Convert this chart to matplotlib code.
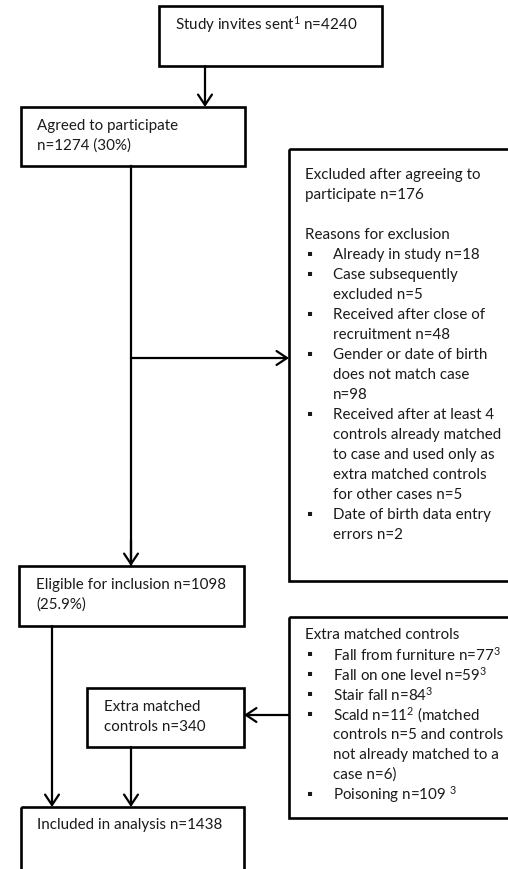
import matplotlib
matplotlib.use("Agg")
import matplotlib.pyplot as plt
from matplotlib.patches import Rectangle

plt.rcParams['font.family'] = ['Lato', 'DejaVu Sans']
plt.rcParams['mathtext.fontset'] = 'custom'
plt.rcParams['mathtext.rm'] = 'Lato'
plt.rcParams['mathtext.it'] = 'Lato'

# box texts
invites = ["Study invites sent$^{1}$ n=4240"]
agreed = ["Agreed to participate", "n=1274 (30%)"]
excl_head = ["Excluded after agreeing to", "participate n=176", "", "Reasons for exclusion"]
excl_items = [
    ["Already in study n=18"],
    ["Case subsequently", "excluded n=5"],
    ["Received after close of", "recruitment n=48"],
    ["Gender or date of birth", "does not match case", "n=98"],
    ["Received after at least 4", "controls already matched", "to case and used only as",
     "extra matched controls", "for other cases n=5"],
    ["Date of birth data entry", "errors n=2"],
]
eligible = ["Eligible for inclusion n=1098", "(25.9%)"]
extra_head = ["Extra matched controls"]
extra_items = [
    ["Fall from furniture n=77$^{3}$"],
    ["Fall on one level n=59$^{3}$"],
    ["Stair fall n=84$^{3}$"],
    ["Scald n=11$^{2}$ (matched", "controls n=5 and controls", "not already matched to a", "case n=6)"],
    ["Poisoning n=109 $^{3}$"],
]
extra_box = ["Extra matched", "controls n=340"]
included = ["Included in analysis n=1438"]

W, H = 508, 869
fig = plt.figure(figsize=(W / 100, H / 100), dpi=100)
ax = fig.add_axes([0, 0, 1, 1])
ax.set_xlim(0, W)
ax.set_ylim(H, 0)
ax.axis('off')

fs = 10.9
LH = 20


def box(x0, y0, x1, y1):
    ax.add_patch(Rectangle((x0, y0), x1 - x0, y1 - y0, fill=False, lw=1.9, ec='black'))


def lines(x, y, rows):
    for i, r in enumerate(rows):
        ax.text(x, y + i * LH, r, fontsize=fs, va='center', ha='left', color='#1a1a1a')
    return y + len(rows) * LH


def bullets(x, y, items):
    for it in items:
        ax.text(x, y, "\u25aa", fontsize=fs, va='center', ha='left', color='#1a1a1a')
        y = lines(x + 26, y, it)
    return y


def arrow(x0, y0, x1, y1):
    ax.annotate("", xy=(x1, y1), xytext=(x0, y0),
                arrowprops=dict(arrowstyle="->,head_length=0.75,head_width=0.5",
                                lw=1.6, color='black', shrinkA=0, shrinkB=0))


box(159, 6, 382, 66)
lines(175, 25, invites)
arrow(205, 66, 205, 107)

box(21, 107, 245, 166)
lines(37, 126, agreed)

box(289, 149, 520, 581)
y = lines(305, 175, excl_head)
bullets(307, y, excl_items)

ax.plot([131, 131], [166, 566], color='black', lw=1.6)
arrow(131, 540, 131, 566)
arrow(131, 358, 289, 358)

box(19, 566, 244, 626)
lines(36, 585, eligible)

box(289, 617, 520, 818)
y = lines(305, 635, extra_head)
bullets(307, y, extra_items)

box(87, 688, 244, 747)
lines(104, 707, extra_box)
arrow(289, 715, 244, 715)

arrow(52, 626, 52, 807)
arrow(131, 747, 131, 807)

box(21, 807, 244, 900)
lines(37, 825, included)

fig.savefig("out.png", dpi=100)
